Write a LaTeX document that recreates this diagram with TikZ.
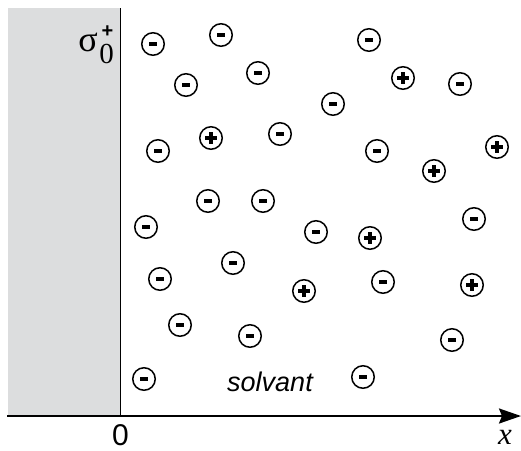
\documentclass[tikz,border=0pt]{standalone}
\usepackage{fontspec}
\setmainfont{Liberation Sans}
\newfontfamily\serifface{Liberation Serif}
\usetikzlibrary{arrows.meta}
\definecolor{wallgray}{RGB}{220,221,222}
\tikzset{
  ion/.style={circle, draw=black, line width=1.5pt, minimum size=22.5pt, inner sep=0pt, fill=white},
  anion/.style={ion, path picture={\fill[black] ([xshift=-4pt,yshift=-1.6pt]path picture bounding box.center) rectangle ++(8pt,3.2pt);}},
  cation/.style={ion, path picture={
     \fill[black] ([xshift=-6pt,yshift=-2.1pt]path picture bounding box.center) rectangle ++(12pt,4.2pt);
     \fill[black] ([xshift=-2.1pt,yshift=-6pt]path picture bounding box.center) rectangle ++(4.2pt,12pt);}},
  lab/.style={inner sep=0pt}
}
\begin{document}
\begin{tikzpicture}[x=1pt,y=-1pt]
\useasboundingbox (0,0) rectangle (521,450);
% wall
\fill[wallgray] (8,8) rectangle (120.5,416);
\coordinate (wallTop) at (120.5,8);
\coordinate (wallBot) at (120.5,416);
\draw[line width=0.8pt] (wallTop) -- (wallBot);
% axis
\coordinate (axL) at (7,416);
\coordinate (axR) at (521,416);
\draw[line width=2.2pt, -{Stealth[length=22pt,width=15pt,inset=3pt]}] (axL) -- (axR);
% labels
\node[lab, font=\fontsize{30}{30}\selectfont, anchor=base] (zero) at (120.5,445) {0};
\node[lab, font=\serifface\itshape\fontsize{31}{31}\selectfont, anchor=base] (xlab) at (505,444) {x};
\node[lab, font=\itshape\fontsize{27}{27}\selectfont, anchor=base] (solv) at (270,391) {solvant};
\node[lab, font=\serifface\fontsize{36}{36}\selectfont, anchor=base] (sigma) at (88,51) {σ};
\node[lab, font=\serifface\fontsize{29}{29}\selectfont, anchor=base] (sub0) at (106.5,63) {0};
\node[lab, font=\bfseries\fontsize{20}{20}\selectfont, anchor=base] (supp) at (107.5,37) {+};
% negative ions
\node[anion] (m1) at (153,44) {};
\node[anion] (m2) at (221,35) {};
\node[anion] (m3) at (258,73) {};
\node[anion] (m4) at (186,85) {};
\node[anion] (m5) at (280,134) {};
\node[anion] (m6) at (158,151) {};
\node[anion] (m7) at (208,201) {};
\node[anion] (m8) at (263,201) {};
\node[anion] (m9) at (369,40) {};
\node[anion] (m10) at (460,84) {};
\node[anion] (m11) at (333,104) {};
\node[anion] (m12) at (377,151) {};
\node[anion] (m13) at (146,227) {};
\node[anion] (m14) at (233,263) {};
\node[anion] (m15) at (160,279) {};
\node[anion] (m16) at (180,325) {};
\node[anion] (m17) at (250,336) {};
\node[anion] (m18) at (144,379) {};
\node[anion] (m19) at (316,232) {};
\node[anion] (m20) at (474,219) {};
\node[anion] (m21) at (383,282) {};
\node[anion] (m22) at (452,340) {};
\node[anion] (m23) at (363,377) {};
% positive ions
\node[cation] (p1) at (211,138) {};
\node[cation] (p2) at (403,78) {};
\node[cation] (p3) at (497,147) {};
\node[cation] (p4) at (434,171) {};
\node[cation] (p5) at (304,291) {};
\node[cation] (p6) at (370,238) {};
\node[cation] (p7) at (472,285) {};
\end{tikzpicture}
\end{document}
